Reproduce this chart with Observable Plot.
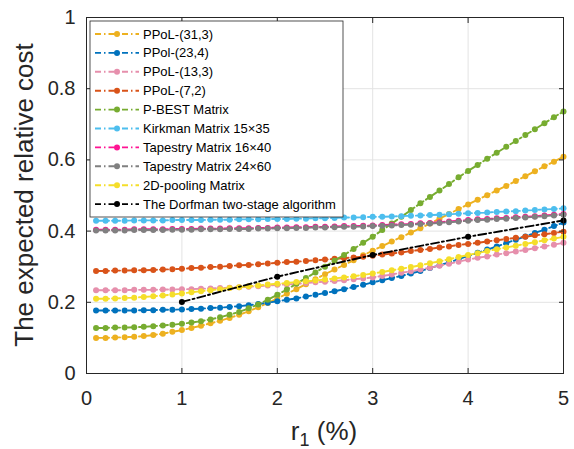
<!DOCTYPE html>
<html>
<head>
<meta charset="utf-8">
<script src="https://cdn.jsdelivr.net/npm/d3@7"></script>
<script src="https://cdn.jsdelivr.net/npm/@observablehq/plot@0.6"></script>
<style>
  html, body { margin: 0; padding: 0; background: #fff; }
  #chart { width: 574px; height: 449px; }
</style>
</head>
<body>
<div id="chart"></div>
<script>
// ---- data ----
const xs = [0.1,0.2,0.3,0.4,0.5,0.6,0.7,0.8,0.9,1.0,
            1.1,1.2,1.3,1.4,1.5,1.6,1.7,1.8,1.9,2.0,
            2.1,2.2,2.3,2.4,2.5,2.6,2.7,2.8,2.9,3.0,
            3.1,3.2,3.3,3.4,3.5,3.6,3.7,3.8,3.9,4.0,
            4.1,4.2,4.3,4.4,4.5,4.6,4.7,4.8,4.9,5.0];

const seriesNames = ["PPoL-(31,3)", "PPol-(23,4)", "PPoL-(13,3)", "PPoL-(7,2)", "P-BEST Matrix",
  "Kirkman Matrix 15×35", "Tapestry Matrix 16×40", "Tapestry Matrix 24×60", "2D-pooling Matrix",
  "The Dorfman two-stage algorithm"];
const seriesColors = ["#EDB120", "#0072BD", "#E68FAC", "#D95319", "#77AC30",
  "#4DBEEE", "#FF1493", "#808080", "#F5DE2A", "#000000"];

const ppol31_3 = [0.100,0.100,0.101,0.102,0.103,0.105,0.108,0.112,0.117,0.122,
  0.128,0.134,0.141,0.148,0.156,0.165,0.175,0.186,0.198,0.211,
  0.224,0.237,0.251,0.265,0.279,0.292,0.305,0.318,0.332,0.345,
  0.358,0.371,0.383,0.396,0.408,0.421,0.435,0.448,0.462,0.475,
  0.488,0.501,0.514,0.527,0.541,0.554,0.568,0.582,0.595,0.609];
const ppol23_4 = [0.177,0.177,0.177,0.177,0.177,0.178,0.178,0.179,0.179,0.180,
  0.181,0.182,0.184,0.185,0.187,0.189,0.192,0.195,0.199,0.203,
  0.207,0.211,0.216,0.221,0.226,0.231,0.237,0.243,0.249,0.256,
  0.262,0.268,0.274,0.281,0.288,0.296,0.304,0.312,0.321,0.330,
  0.339,0.348,0.357,0.366,0.376,0.385,0.395,0.404,0.414,0.424];
const ppol13_3 = [0.234,0.234,0.234,0.234,0.235,0.235,0.235,0.236,0.236,0.237,
  0.237,0.238,0.239,0.240,0.241,0.242,0.244,0.245,0.247,0.249,
  0.250,0.252,0.254,0.256,0.258,0.260,0.262,0.265,0.267,0.270,
  0.274,0.278,0.283,0.287,0.292,0.297,0.303,0.308,0.314,0.320,
  0.325,0.329,0.334,0.338,0.343,0.347,0.352,0.357,0.362,0.367];
const ppol7_2 = [0.288,0.288,0.289,0.289,0.290,0.290,0.291,0.292,0.293,0.294,
  0.296,0.297,0.299,0.300,0.302,0.304,0.305,0.307,0.309,0.311,
  0.313,0.314,0.316,0.318,0.320,0.322,0.324,0.326,0.328,0.331,
  0.334,0.337,0.340,0.344,0.347,0.350,0.354,0.357,0.361,0.364,
  0.367,0.371,0.374,0.378,0.381,0.384,0.388,0.391,0.395,0.398];
const pbest = [0.128,0.128,0.129,0.129,0.130,0.131,0.133,0.135,0.137,0.140,
  0.143,0.147,0.152,0.158,0.165,0.173,0.183,0.194,0.207,0.221,
  0.236,0.252,0.268,0.284,0.300,0.317,0.333,0.350,0.367,0.384,
  0.403,0.421,0.440,0.459,0.478,0.496,0.514,0.532,0.551,0.569,
  0.586,0.603,0.620,0.637,0.653,0.670,0.686,0.703,0.720,0.736];
const kirkman = [0.429,0.429,0.429,0.429,0.430,0.430,0.430,0.430,0.431,0.431,
  0.431,0.431,0.432,0.432,0.432,0.433,0.433,0.433,0.434,0.434,
  0.434,0.435,0.435,0.436,0.436,0.437,0.438,0.438,0.439,0.440,
  0.440,0.441,0.442,0.443,0.444,0.445,0.446,0.447,0.449,0.450,
  0.451,0.452,0.454,0.455,0.456,0.458,0.459,0.461,0.462,0.464];
const tapestry16_40 = [0.404,0.404,0.404,0.404,0.405,0.405,0.405,0.405,0.406,0.406,
  0.406,0.407,0.407,0.407,0.408,0.408,0.408,0.409,0.409,0.410,
  0.410,0.411,0.411,0.412,0.412,0.413,0.414,0.414,0.415,0.416,
  0.417,0.418,0.419,0.420,0.422,0.423,0.425,0.427,0.429,0.431,
  0.433,0.434,0.436,0.437,0.439,0.440,0.442,0.444,0.446,0.448];
const tapestry24_60 = [0.402,0.402,0.402,0.402,0.403,0.403,0.403,0.403,0.404,0.404,
  0.404,0.405,0.405,0.405,0.406,0.406,0.406,0.407,0.407,0.408,
  0.408,0.409,0.409,0.410,0.410,0.411,0.412,0.412,0.413,0.414,
  0.415,0.416,0.417,0.418,0.420,0.421,0.423,0.425,0.427,0.429,
  0.431,0.432,0.434,0.435,0.437,0.438,0.440,0.442,0.444,0.446];
const pooling2d = [0.210,0.210,0.211,0.212,0.213,0.215,0.217,0.219,0.222,0.225,
  0.228,0.231,0.234,0.237,0.240,0.242,0.245,0.247,0.250,0.252,
  0.254,0.257,0.259,0.261,0.264,0.267,0.270,0.273,0.277,0.281,
  0.285,0.290,0.294,0.299,0.304,0.310,0.315,0.321,0.327,0.333,
  0.338,0.344,0.349,0.354,0.359,0.364,0.369,0.374,0.379,0.384];
const dorfmanX = [1, 2, 3, 4, 5];
const dorfman = [0.201, 0.272, 0.333, 0.384, 0.430];

const xTicks = [0, 1, 2, 3, 4, 5];
const yTicks = [0, 0.2, 0.4, 0.6, 0.8, 1];

// ---- build table ----
const seriesValues = [ppol31_3, ppol23_4, ppol13_3, ppol7_2, pbest, kirkman, tapestry16_40, tapestry24_60, pooling2d, dorfman];
const rows = [];
seriesValues.forEach((vals, i) => {
  const xv = i === 9 ? dorfmanX : xs;
  vals.forEach((v, j) => rows.push({x: xv[j], y: v, s: seriesNames[i]}));
});

const dash = "8,3,2,3";
const marks = [
  Plot.gridX(xTicks.slice(1, -1), {stroke: "#e3e3e3", strokeOpacity: 1}),
  Plot.gridY(yTicks.slice(1, -1), {stroke: "#e3e3e3", strokeOpacity: 1})
];
seriesNames.forEach((name, i) => {
  const data = rows.filter(d => d.s === name);
  marks.push(Plot.line(data, {x: "x", y: "y", stroke: seriesColors[i], strokeWidth: 1.9, strokeDasharray: dash}));
  marks.push(Plot.dot(data, {x: "x", y: "y", r: 3, fill: seriesColors[i], stroke: "none"}));
});
marks.push(
  Plot.frame({stroke: "#262626", strokeWidth: 1}),
  Plot.axisX(xTicks, {anchor: "bottom", tickSize: 0, tickPadding: 17, label: null, fontSize: 20, fill: "#262626"}),
  Plot.axisY(yTicks, {anchor: "left", tickSize: 0, tickPadding: 11, label: null, fontSize: 20, fill: "#262626", tickFormat: d => String(d)}),
  Plot.axisX(xTicks, {anchor: "bottom", tickSize: -5, tickFormat: () => "", label: null, stroke: "#262626"}),
  Plot.axisX(xTicks, {anchor: "top", tickSize: -5, tickFormat: () => "", label: null, stroke: "#262626"}),
  Plot.axisY(yTicks, {anchor: "left", tickSize: -5, tickFormat: () => "", label: null, stroke: "#262626"}),
  Plot.axisY(yTicks, {anchor: "right", tickSize: -5, tickFormat: () => "", label: null, stroke: "#262626"})
);

const svg = Plot.plot({
  width: 574,
  height: 449,
  marginLeft: 86,
  marginRight: 11,
  marginTop: 17,
  marginBottom: 76,
  style: {fontFamily: "'Liberation Sans', Arial, Helvetica, sans-serif", background: "#fff", color: "#262626"},
  x: {domain: [0, 5]},
  y: {domain: [0, 1]},
  marks
});
document.getElementById("chart").appendChild(svg);

// ---- axis titles ----
const s = d3.select(svg);
const font = "'Liberation Sans', Arial, Helvetica, sans-serif";
const xt = s.append("text")
  .attr("x", 324).attr("y", 440)
  .attr("text-anchor", "middle")
  .attr("font-family", font).attr("font-size", 26).attr("fill", "#262626");
xt.append("tspan").text("r");
xt.append("tspan").attr("font-size", 18).attr("dy", 6).text("1");
xt.append("tspan").attr("dy", -6).text(" (%)");

s.append("text")
  .attr("transform", "translate(33,195) rotate(-90)")
  .attr("text-anchor", "middle")
  .attr("font-family", font).attr("font-size", 26).attr("fill", "#262626")
  .text("The expected relative cost");

// ---- legend ----
const lg = s.append("g").attr("text-anchor", "start");
lg.append("rect").attr("x", 90).attr("y", 21).attr("width", 253).attr("height", 196)
  .attr("fill", "#fff").attr("stroke", "#262626").attr("stroke-width", 0.8);
seriesNames.forEach((name, i) => {
  const y = 34 + i * 18.9;
  lg.append("line").attr("x1", 95).attr("x2", 139).attr("y1", y).attr("y2", y)
    .attr("stroke", seriesColors[i]).attr("stroke-width", 1.9).attr("stroke-dasharray", "6,3,1.5,3");
  lg.append("circle").attr("cx", 117).attr("cy", y).attr("r", 3).attr("fill", seriesColors[i]);
  lg.append("text").attr("x", 143).attr("y", y).attr("dy", "0.35em")
    .attr("text-anchor", "start")
    .attr("font-family", font).attr("font-size", 13).attr("fill", "#000").text(name);
});
</script>
</body>
</html>
